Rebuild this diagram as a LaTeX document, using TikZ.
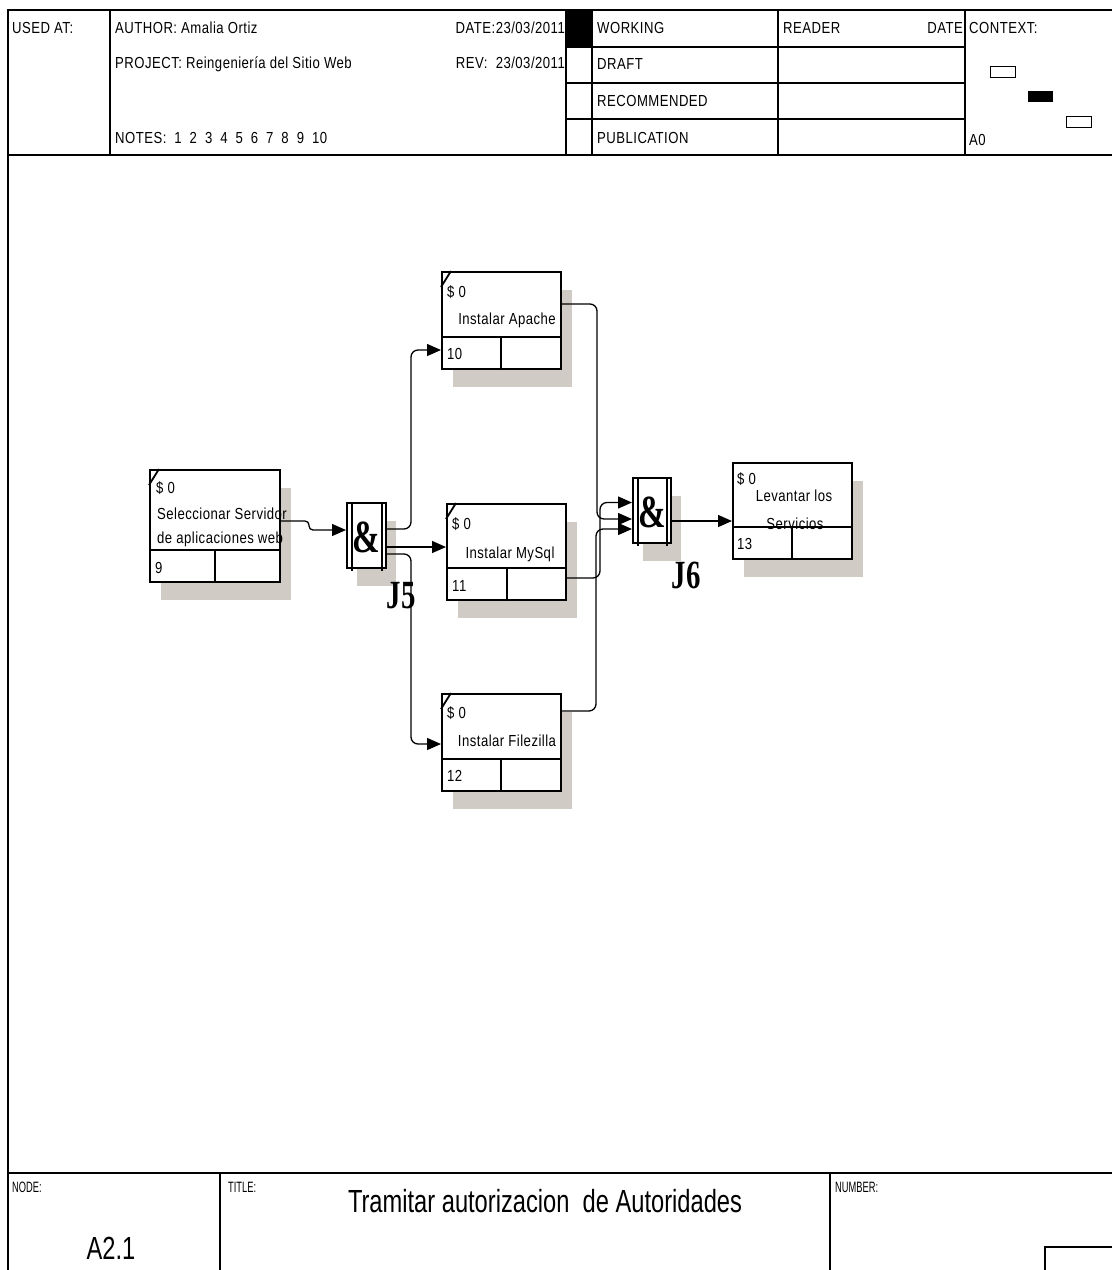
\documentclass[tikz,border=0pt]{standalone}
\usepackage{fontspec}
\setmainfont{Liberation Sans}
\newfontfamily\hfont[FakeStretch=0.82,LetterSpace=3]{Liberation Sans}
\newfontfamily\nfont[FakeStretch=0.62]{Liberation Sans}
\newfontfamily\tfont[FakeStretch=0.74]{Liberation Sans}
\newfontfamily\jfont[FakeStretch=0.72]{Liberation Serif}
\usetikzlibrary{arrows.meta,calc,shadows}
\definecolor{shadowc}{RGB}{208,204,197}
\newcommand\actdetails[2]{%
  \draw[divline] ($(#1.south west)+(0,-33)$) -- ($(#1.south east)+(0,-33)$);
  \draw[divline] ($(#1.south west)+(#2,0)$) -- ($(#1.south west)+(#2,-33)$);}
\newcommand\actslash[1]{\draw[line width=1.8pt] ($(#1.north west)+(0,16)$) -- ($(#1.north west)+(10,0)$);}
\newcommand\jinner[1]{%
  \draw[line width=1.3pt] ($(#1.north west)+(6,0)$) -- ($(#1.south west)+(6,2)$);
  \draw[line width=1.3pt] ($(#1.north east)+(-5,0)$) -- ($(#1.south east)+(-5,2)$);}
\begin{document}
\begin{tikzpicture}[x=1pt,y=-1pt,
  frame/.style={line width=1.3pt},
  divline/.style={line width=2pt},
  hdr/.style={font=\hfont\fontsize{16}{16}\selectfont, inner sep=0pt, anchor=base west},
  txt/.style={font=\hfont\fontsize{16}{16}\selectfont, inner sep=0pt, anchor=base west},
  ctxt/.style={font=\hfont\fontsize{16}{16}\selectfont, inner sep=0pt, anchor=base},
  sm/.style={font=\nfont\fontsize{15}{15}\selectfont, inner sep=0pt, anchor=base west},
  big/.style={font=\tfont\fontsize{32}{32}\selectfont, inner sep=0pt, anchor=base},
  jlab/.style={font=\jfont\bfseries\fontsize{40}{40}\selectfont, inner sep=0pt, anchor=base},
  amp/.style={font=\jfont\bfseries\fontsize{46}{46}\selectfont, inner sep=0pt},
  actbox/.style={draw, line width=2pt, fill=white, inner sep=0pt, rectangle,
    drop shadow={shadow xshift=11pt, shadow yshift=-18pt, fill=shadowc, opacity=1}},
  jbox/.style={draw, line width=2pt, fill=white, inner sep=0pt, rectangle,
    drop shadow={shadow xshift=10pt, shadow yshift=-18pt, fill=shadowc, opacity=1}},
  conn/.style={line width=1.3pt, -{Triangle[length=14pt,width=12pt]}},
  link/.style={line width=1.3pt}]
\useasboundingbox (0,0) rectangle (1112,1270);
\fill[white] (0,0) rectangle (1112,1270);

% ---------- frame and header ----------
\draw[frame] (8,1270) -- (8,10) -- (1112,10);
\draw[frame] (8,155) -- (1112,155);
\draw[frame] (110,10) -- (110,155);
\draw[frame] (566,10) -- (566,155);
\draw[frame] (592,10) -- (592,155);
\draw[frame] (778,10) -- (778,155);
\draw[frame] (965,10) -- (965,155);
\foreach \yy in {47,83,119} \draw[frame] (566,\yy) -- (965,\yy);
\fill (566,10) rectangle (591,47);
\draw[line width=1pt] (990,66) rectangle (1015,77);
\fill (1028,91) rectangle (1053,102);
\draw[line width=1pt] (1066,116) rectangle (1091,127);

\node[hdr] (usedat) at (12,33) {USED AT:};
\node[hdr] (author) at (115,33) {AUTHOR: Amalia Ortiz};
\node[hdr] (project) at (115,68) {PROJECT: Reingeniería del Sitio Web};
\node[hdr] (notes) at (115,143) {NOTES:\hspace{8pt}1\hspace{8pt}2\hspace{8pt}3\hspace{8pt}4\hspace{8pt}5\hspace{8pt}6\hspace{8pt}7\hspace{8pt}8\hspace{8pt}9\hspace{8pt}10};
\node[hdr, anchor=base east] (date) at (565,33) {DATE:23/03/2011};
\node[hdr, anchor=base east] (rev) at (565,68) {REV:\ \ 23/03/2011};
\node[hdr] (working) at (597,33) {WORKING};
\node[hdr] (draft) at (597,69) {DRAFT};
\node[hdr] (recom) at (597,106) {RECOMMENDED};
\node[hdr] (pub) at (597,143) {PUBLICATION};
\node[hdr] (reader) at (783,33) {READER};
\node[hdr, anchor=base east] (rdate) at (963,33) {DATE};
\node[hdr] (context) at (969,33) {CONTEXT:};
\node[hdr] (a0) at (969,145) {A0};

% ---------- footer ----------
\draw[frame] (8,1173) -- (1112,1173);
\draw[frame] (220,1173) -- (220,1270);
\draw[frame] (830,1173) -- (830,1270);
\draw[frame] (1112,1247) -- (1045,1247) -- (1045,1270);
\node[sm] (nodel) at (12,1192) {NODE:};
\node[sm] (titlel) at (228,1192) {TITLE:};
\node[sm] (numl) at (835,1192) {NUMBER:};
\node[big] (nodenum) at (111,1259) {A2.1};
\node[big] (title) at (545,1212) {Tramitar autorizacion\ \ de Autoridades};

% ---------- activity boxes ----------
\node[actbox, minimum width=130, minimum height=112] (b9) at (215,526) {};
\node[actbox, minimum width=119, minimum height=97] (b10) at (501.5,320.5) {};
\node[actbox, minimum width=119, minimum height=96] (b11) at (506.5,552) {};
\node[actbox, minimum width=119, minimum height=97] (b12) at (501.5,742.5) {};
\node[actbox, minimum width=119, minimum height=96] (b13) at (792.5,511) {};
\actdetails{b9}{66}
\actdetails{b10}{60}
\actdetails{b11}{61}
\actdetails{b12}{60}
\actdetails{b13}{60}
\actslash{b9}
\actslash{b10}
\actslash{b11}
\actslash{b12}

\node[txt] (b9c) at (156,493) {\$ 0};
\node[txt] (b9n1) at (157,519) {Seleccionar Servidor};
\node[txt] (b9n2) at (157,543) {de aplicaciones web};
\node[txt] (b9num) at (155,573) {9};

\node[txt] (b10c) at (447,297) {\$ 0};
\node[ctxt] (b10n) at (507,324) {Instalar Apache};
\node[txt] (b10num) at (447,359) {10};

\node[txt] (b11c) at (452,529) {\$ 0};
\node[ctxt] (b11n) at (510,558) {Instalar MySql};
\node[txt] (b11num) at (452,591) {11};

\node[txt] (b12c) at (447,718) {\$ 0};
\node[ctxt] (b12n) at (507,746) {Instalar Filezilla};
\node[txt] (b12num) at (447,781) {12};

\node[txt] (b13c) at (737,484) {\$ 0};
\node[ctxt] (b13n1) at (794,501) {Levantar los};
\node[ctxt] (b13n2) at (795,529) {Servicios};
\node[txt] (b13num) at (737,549) {13};

% ---------- junctions ----------
\node[jbox, minimum width=39, minimum height=65] (j5) at (366.5,535.5) {};
\node[jbox, minimum width=38, minimum height=65] (j6) at (652,510.5) {};
\jinner{j5}
\jinner{j6}
\node[amp] (j5a) at ($(j5.center)+(0,2)$) {\&};
\node[amp] (j6a) at ($(j6.center)+(0,2)$) {\&};
\node[jlab] (j5l) at (401,608) {J5};
\node[jlab] (j6l) at (686,588) {J6};

% ---------- connectors ----------
\draw[conn, rounded corners=4] ($(b9.east)+(0,-5)$) -- ++(28,0) |- ($(j5.west)+(0,-5.5)$);
\draw[conn, rounded corners=7] ($(j5.east)+(0,-6.5)$) -| ($(b10.west)+(-30,29.5)$) -- ($(b10.west)+(0,29.5)$);
\draw[conn] ($(j5.east)+(0,11.5)$) -- ($(b11.west)+(0,-5)$);
\draw[conn, rounded corners=7] ($(j5.east)+(0,18.5)$) -| ($(b12.west)+(-30,1.5)$) -- ($(b12.west)+(0,1.5)$);
\draw[conn, rounded corners=7] ($(b10.east)+(0,-16.5)$) -| ($(j6.west)+(-35,8.5)$) -- ($(j6.west)+(0,8.5)$);
\draw[conn, rounded corners=7] ($(b11.east)+(0,26)$) -| ($(j6.west)+(-32,-8)$) -- ($(j6.west)+(0,-8)$);
\draw[conn, rounded corners=7] ($(b12.east)+(0,-31.5)$) -| ($(j6.west)+(-36,18.5)$) -- ($(j6.west)+(0,18.5)$);
\draw[conn] ($(j6.east)+(0,10.5)$) -- ($(b13.west)+(0,10)$);
\end{tikzpicture}
\end{document}
